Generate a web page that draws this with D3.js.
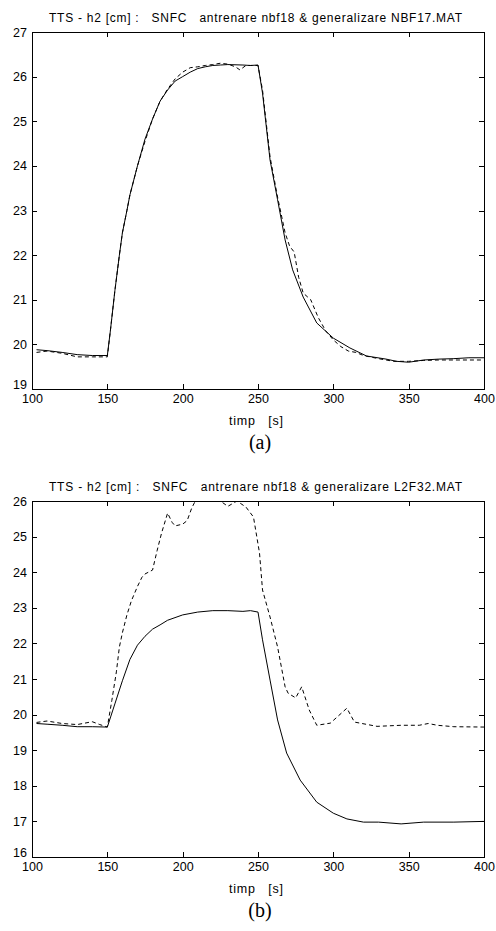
<!DOCTYPE html>
<html><head><meta charset="utf-8">
<script src="https://cdn.jsdelivr.net/npm/d3@7"></script>
<style>
body{margin:0;background:#fff;}
svg text{font-family:"Liberation Sans",Arial,sans-serif;}
</style></head>
<body><svg id="c" width="496" height="931"></svg>
<script>
// ---- data ----
const titlesA = "TTS - h2 [cm] :   SNFC   antrenare nbf18 & generalizare NBF17.MAT";
const titlesB = "TTS - h2 [cm] :   SNFC   antrenare nbf18 & generalizare L2F32.MAT";
const xLabel = "timp   [s]";
const xTicks = [100,150,200,250,300,350,400];
const yTicksA = [19,20,21,22,23,24,25,26,27];
const yTicksB = [16,17,18,19,20,21,22,23,24,25,26];

// panel (a) solid (model)
const aSolidT = [103,110,120,130,140,150,152,155,158,160,163,165,170,175,180,185,190,195,200,205,210,215,220,225,230,240,245,250,253,258,263,268,273,280,289,300,311,322,335,342,350,360,370,380,390,400];
const aSolidV = [19.88,19.86,19.82,19.77,19.75,19.75,20.3,21.2,22.0,22.5,23.0,23.35,24.0,24.6,25.05,25.45,25.7,25.9,26.0,26.1,26.18,26.22,26.25,26.26,26.27,26.26,26.25,26.26,25.63,24.13,23.24,22.34,21.67,21.06,20.48,20.14,19.92,19.74,19.67,19.62,19.6,19.65,19.67,19.68,19.7,19.7];
// panel (a) dashed (process)
const aDashT = [103,110,120,130,140,150,152,155,158,160,163,165,170,175,180,185,190,195,200,205,210,215,220,225,230,235,238,242,245,250,253,258,263,268,271,274,277,280,285,290,295,300,305,310,315,320,330,340,350,360,370,380,390,400];
const aDashV = [19.82,19.85,19.8,19.72,19.72,19.72,20.3,21.2,22.0,22.5,23.0,23.35,24.0,24.55,25.05,25.45,25.72,25.95,26.1,26.2,26.22,26.25,26.27,26.3,26.28,26.22,26.15,26.25,26.25,26.25,25.7,24.2,23.3,22.5,22.2,22.07,21.5,21.15,21.0,20.6,20.3,20.1,19.95,19.85,19.82,19.75,19.68,19.62,19.62,19.64,19.65,19.65,19.65,19.65];

// panel (b) solid (model)
const bSolidT = [103,110,120,130,140,150,155,160,165,170,175,180,185,190,200,210,220,230,240,245,250,253,258,263,269,278,289,300,309,320,330,345,360,380,400];
const bSolidV = [19.75,19.73,19.7,19.66,19.66,19.65,20.3,20.95,21.55,21.95,22.2,22.4,22.52,22.65,22.8,22.88,22.92,22.92,22.9,22.92,22.88,22.1,20.97,19.85,18.92,18.16,17.54,17.23,17.07,16.98,16.98,16.93,16.98,16.98,17.0];
// panel (b) dashed (process)
const bDashT = [103,110,120,130,140,145,150,153,156,158,160,163,166,170,173,175,180,183,186,190,193,195,200,203,206,209,215,220,225,230,236,242,247,251,253,258,263,268,270,275,279,284,289,298,309,314,329,345,357,363,369,380,400];
const bDashV = [19.78,19.82,19.75,19.72,19.8,19.72,19.65,20.4,21.2,21.9,22.3,22.8,23.2,23.6,23.86,23.95,24.06,24.6,25.1,25.66,25.4,25.3,25.35,25.45,25.8,26.05,26.1,26.05,26.0,25.85,26.0,25.83,25.55,24.54,23.5,22.74,21.9,20.78,20.6,20.47,20.78,20.13,19.7,19.76,20.18,19.79,19.67,19.7,19.7,19.75,19.7,19.66,19.65];

// ---- drawing ----
const svg = d3.select("#c");
const L = 32, R = 484;

function panel(cfg){
  const x = d3.scaleLinear().domain([100,400]).range([L,R]);
  const y = d3.scaleLinear().domain(cfg.ydom).range([cfg.bottom,cfg.top]);
  const g = svg.append("g");
  const clipId = "clip"+cfg.id;
  g.append("clipPath").attr("id",clipId).append("rect")
    .attr("x",L).attr("y",cfg.top).attr("width",R-L).attr("height",cfg.bottom-cfg.top);

  const axStyle = s => { s.selectAll("path,line").attr("stroke","#000").attr("shape-rendering","crispEdges");
                         s.selectAll("text").attr("font-size",12.5).attr("fill","#000"); };
  g.append("g").attr("transform",`translate(0,${cfg.bottom})`)
    .call(d3.axisBottom(x).tickValues(xTicks).tickSize(-5).tickSizeOuter(0).tickPadding(5).tickFormat(d3.format("d"))).call(axStyle);
  g.append("g").attr("transform",`translate(0,${cfg.top})`)
    .call(d3.axisTop(x).tickValues(xTicks).tickSize(-5).tickSizeOuter(0).tickFormat("")).call(axStyle);
  g.append("g").attr("transform",`translate(${L},0)`)
    .call(d3.axisLeft(y).tickValues(cfg.yticks).tickSize(-5).tickSizeOuter(0).tickPadding(5).tickFormat(d3.format("d"))).call(axStyle)
    .selectAll(".tick text").filter(d=>d===cfg.ydom[0]).attr("transform","translate(0,-5)");
  g.append("g").attr("transform",`translate(${R},0)`)
    .call(d3.axisRight(y).tickValues(cfg.yticks).tickSize(-5).tickSizeOuter(0).tickFormat("")).call(axStyle);

  const line = d3.line().x(d=>x(d[0])).y(d=>y(d[1]));
  const mk = (T,V)=>T.map((t,i)=>[t,V[i]]);
  g.append("path").datum(mk(cfg.dT,cfg.dV)).attr("d",line).attr("fill","none")
    .attr("stroke","#000").attr("stroke-width",1).attr("stroke-dasharray","4,3").attr("clip-path",`url(#${clipId})`);
  g.append("path").datum(mk(cfg.sT,cfg.sV)).attr("d",line).attr("fill","none")
    .attr("stroke","#000").attr("stroke-width",1).attr("clip-path",`url(#${clipId})`);

  g.append("text").attr("x",255.5).attr("y",cfg.top-10).attr("text-anchor","middle")
    .attr("font-size",12).attr("textLength",413).attr("lengthAdjust","spacing")
    .style("white-space","pre").text(cfg.title);
  g.append("text").attr("x",256).attr("y",cfg.bottom+36).attr("text-anchor","middle")
    .attr("font-size",12.5).attr("textLength",54).attr("lengthAdjust","spacing")
    .style("white-space","pre").text(xLabel);
  g.append("text").attr("x",(L+R)/2+2).attr("y",cfg.bottom+60).attr("text-anchor","middle")
    .attr("font-size",20).style("font-family","'Liberation Serif','Times New Roman',serif").text(cfg.cap);
}

panel({id:"a",top:32,bottom:389,ydom:[19,27],yticks:yTicksA,title:titlesA,cap:"(a)",sT:aSolidT,sV:aSolidV,dT:aDashT,dV:aDashV});
panel({id:"b",top:501,bottom:857,ydom:[16,26],yticks:yTicksB,title:titlesB,cap:"(b)",sT:bSolidT,sV:bSolidV,dT:bDashT,dV:bDashV});
</script></body></html>
